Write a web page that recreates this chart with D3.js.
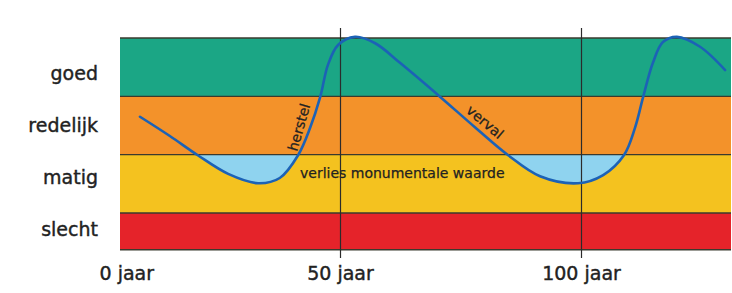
<!DOCTYPE html>
<html>
<head>
<meta charset="utf-8">
<script src="https://d3js.org/d3.v7.min.js"></script>
<style>
  body { margin: 0; background: #fff; }
  text { font-family: "DejaVu Sans", sans-serif; fill: #222; }
  .axis text { font-size: 19px; stroke: #222; stroke-width: 0.4px; }
  .note { font-size: 14px; stroke: #222; stroke-width: 0.25px; }
</style>
</head>
<body>
<svg width="732" height="293"></svg>
<script>
// condition levels (top to bottom) and their value bounds
var levels = ["goed", "redelijk", "matig", "slecht"];
var levelTop = [4, 3, 2, 1];
var levelBottom = [3, 2, 1, 0.37];
var levelColors = ["#1ba685", "#f3922a", "#f4c21f", "#e5232a"];

// condition of the monument over the years
var years = [8.5, 14.7, 20.5, 26.8, 33.0, 37.5, 41.3, 43.8, 45.9, 47.5, 49.6, 53.1, 57.3, 62.5,
             70.8, 78.0, 84.9, 91.5, 99.4, 104.6, 108.9, 111.2, 112.9, 114.9, 117.0, 119.9, 124.7, 129.9];
var condition = [2.65, 2.32, 1.99, 1.67, 1.51, 1.60, 1.99, 2.46, 2.99, 3.54, 3.88, 4.02, 3.91, 3.57,
                 2.99, 2.47, 1.99, 1.63, 1.51, 1.65, 1.99, 2.46, 2.99, 3.57, 3.93, 4.02, 3.85, 3.45];

var tickYears = [0, 50, 100];

var svg = d3.select("svg");
var plotLeft = 120, plotRight = 731;

var x = d3.scaleLinear().domain([0, 100]).range([99, 581]);
var y = d3.scaleLinear().domain([1, 4]).range([213, 38]);

var pts = years.map(function(d, i) { return { year: d, v: condition[i] }; });

// bands
svg.selectAll(".band")
   .data(levels)
   .enter()
   .append("rect")
   .attr("class", "band")
   .attr("x", plotLeft)
   .attr("width", plotRight - plotLeft)
   .attr("y", function(d, i) { return y(levelTop[i]); })
   .attr("height", function(d, i) { return y(levelBottom[i]) - y(levelTop[i]); })
   .attr("fill", function(d, i) { return levelColors[i]; });

// light blue: loss of monumental value (curve below "redelijk")
svg.append("clipPath")
   .attr("id", "belowRedelijk")
   .append("rect")
   .attr("x", plotLeft)
   .attr("width", plotRight - plotLeft)
   .attr("y", y(2))
   .attr("height", y(0.37) - y(2));

var curve = d3.curveCatmullRom.alpha(0.5);

svg.append("path")
   .datum(pts)
   .attr("clip-path", "url(#belowRedelijk)")
   .attr("fill", "#8fd3ef")
   .attr("d", d3.area()
      .curve(curve)
      .x(function(d) { return x(d.year); })
      .y0(y(4.3))
      .y1(function(d) { return y(d.v); }));

// band borders
var borders = levelTop.concat([levelBottom[levelBottom.length - 1]]);
svg.selectAll(".border")
   .data(borders)
   .enter()
   .append("line")
   .attr("class", "border")
   .attr("x1", plotLeft)
   .attr("x2", plotRight)
   .attr("y1", function(d) { return y(d); })
   .attr("y2", function(d) { return y(d); })
   .attr("stroke", "#3a3a2e")
   .attr("stroke-width", 1.3);

// left labels
var yl = d3.scalePoint().domain(levels).range([73, 229]);
svg.append("g")
   .attr("class", "axis")
   .attr("transform", "translate(" + plotLeft + ",0)")
   .call(d3.axisLeft(yl).tickSize(0).tickPadding(22))
   .call(function(g) { g.select(".domain").remove(); });

// annotations
svg.append("text")
   .attr("class", "note")
   .attr("text-anchor", "middle")
   .attr("dy", "0.35em")
   .attr("transform", "translate(" + x(41.5) + "," + y(2.47) + ") rotate(-74)")
   .text("herstel");

svg.append("text")
   .attr("class", "note")
   .attr("text-anchor", "middle")
   .attr("dy", "0.35em")
   .attr("transform", "translate(" + x(80.1) + "," + y(2.56) + ") rotate(40)")
   .text("verval");

svg.append("text")
   .attr("class", "note")
   .attr("x", x(41.7))
   .attr("y", y(1.6))
   .text("verlies monumentale waarde");

// x axis with vertical reference lines
var xAxis = svg.append("g")
   .attr("class", "axis")
   .attr("transform", "translate(0,258)")
   .call(d3.axisBottom(x)
      .tickValues(tickYears)
      .tickFormat(function(d) { return d + " jaar"; })
      .tickSize(-230)
      .tickPadding(9));

xAxis.select(".domain").remove();
xAxis.selectAll(".tick line")
   .attr("stroke", "#2b2b2b")
   .attr("stroke-width", 1.2)
   .filter(function(d) { return d === 0; })
   .remove();
xAxis.selectAll(".tick text")
   .attr("fill", "#222")
   .filter(function(d) { return d === 0; })
   .attr("text-anchor", "start");

// condition curve
svg.append("path")
   .datum(pts)
   .attr("fill", "none")
   .attr("stroke", "#1c62b6")
   .attr("stroke-width", 2.6)
   .attr("stroke-linecap", "round")
   .attr("d", d3.line()
      .curve(curve)
      .x(function(d) { return x(d.year); })
      .y(function(d) { return y(d.v); }));
</script>
</body>
</html>
